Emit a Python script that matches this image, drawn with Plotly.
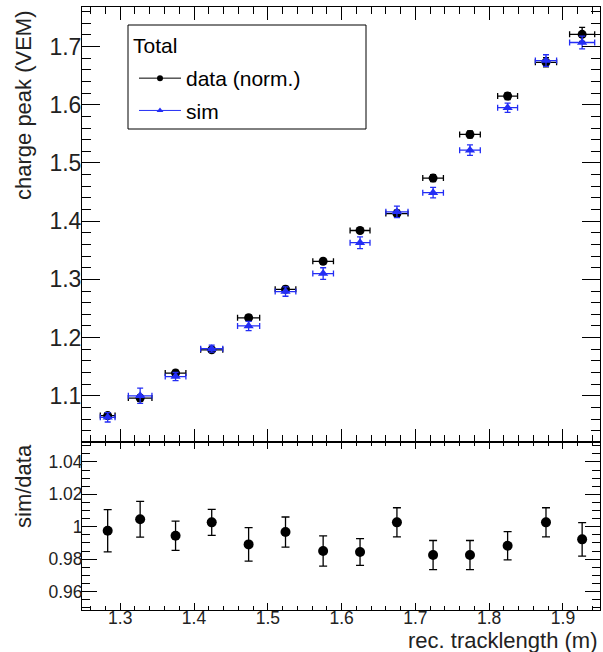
import plotly.graph_objects as go

# ---- data ----
track_len = [1.283, 1.327, 1.375, 1.424, 1.474, 1.524, 1.575, 1.625, 1.675, 1.724, 1.774, 1.825, 1.877, 1.926]
track_err = [0.010, 0.016, 0.014, 0.015, 0.015, 0.014, 0.014, 0.0135, 0.015, 0.014, 0.014, 0.0135, 0.0144, 0.017]
data_peak = [1.066, 1.096, 1.139, 1.179, 1.234, 1.283, 1.331, 1.384, 1.413, 1.474, 1.549, 1.615, 1.673, 1.721]
data_err = [0.005, 0.005, 0.005, 0.004, 0.005, 0.005, 0.005, 0.005, 0.006, 0.006, 0.006, 0.006, 0.008, 0.012]
sim_peak = [1.063, 1.100, 1.133, 1.181, 1.220, 1.279, 1.310, 1.363, 1.416, 1.449, 1.522, 1.595, 1.676, 1.707]
sim_err = [0.008, 0.013, 0.007, 0.006, 0.008, 0.008, 0.010, 0.010, 0.010, 0.009, 0.009, 0.008, 0.010, 0.011]
ratio = [0.9975, 1.0046, 0.9944, 1.0027, 0.9891, 0.9967, 0.985, 0.9844, 1.0027, 0.9825, 0.9825, 0.9883, 1.0027, 0.9922]
ratio_err = [0.013, 0.011, 0.009, 0.008, 0.0103, 0.0093, 0.0093, 0.0082, 0.009, 0.009, 0.009, 0.0087, 0.009, 0.0103]

FONT = "Liberation Sans, Arial, sans-serif"
BLUE = "rgb(35,45,245)"

W, H = 603, 652
ML, MR, MT, MB = 82, 3, 7, 42
PW, PH = W - ML - MR, H - MT - MB
split = (610 - 442) / PH

def px_x(px):
    return (px - ML) / PW

def px_y(py):
    return (H - MB - py) / PH

fig = go.Figure()

fig.add_trace(go.Scatter(
    x=track_len, y=data_peak, mode="markers", name="data (norm.)", showlegend=False,
    marker=dict(symbol="circle", size=9, color="black"),
    error_x=dict(type="data", array=track_err, color="black", thickness=1.3, width=3),
    error_y=dict(type="data", array=data_err, color="black", thickness=1.3, width=3),
    xaxis="x", yaxis="y"))
fig.add_trace(go.Scatter(
    x=track_len, y=sim_peak, mode="markers", name="sim", showlegend=False,
    marker=dict(symbol="triangle-up", size=9, color=BLUE),
    error_x=dict(type="data", array=track_err, color=BLUE, thickness=1.3, width=3),
    error_y=dict(type="data", array=sim_err, color=BLUE, thickness=1.3, width=3),
    xaxis="x", yaxis="y"))

# legend entries
fig.add_trace(go.Scatter(
    x=[None], y=[None], mode="lines+markers", name="data (norm.)", legendgroup="a",
    line=dict(color="black", width=1), marker=dict(symbol="circle", size=6, color="black"),
    xaxis="x", yaxis="y"))
fig.add_trace(go.Scatter(
    x=[None], y=[None], mode="lines+markers", name="sim", legendgroup="b",
    line=dict(color=BLUE, width=1), marker=dict(symbol="triangle-up", size=6, color=BLUE),
    xaxis="x", yaxis="y"))

fig.add_trace(go.Scatter(
    x=track_len, y=ratio, mode="markers", showlegend=False,
    marker=dict(symbol="circle", size=10, color="black"),
    error_y=dict(type="data", array=ratio_err, color="black", thickness=1.3, width=4),
    xaxis="x2", yaxis="y2"))

tickfont_big = dict(family=FONT, size=23, color="#222")
tickfont_small = dict(family=FONT, size=17.5, color="#222")
xrange = [1.2482, 1.9502]

common = dict(showline=True, linecolor="black", linewidth=1, mirror="allticks",
              ticks="inside", tickcolor="black", tickwidth=1, showgrid=False, zeroline=False,
              automargin=False)

fig.update_layout(
    width=W, height=H,
    margin=dict(l=ML, r=MR, t=MT, b=MB),
    paper_bgcolor="white", plot_bgcolor="white",
    showlegend=True,
    xaxis=dict(domain=[0, 1], anchor="y", range=xrange, dtick=0.1, tick0=1.0,
               showticklabels=False, ticklen=13,
               minor=dict(dtick=0.02, tick0=1.0, ticks="inside", ticklen=7, tickcolor="black"),
               **common),
    yaxis=dict(domain=[split, 1], anchor="x", range=[1.0206, 1.768], dtick=0.1, tick0=1.0,
               ticklen=18, tickfont=tickfont_big, ticklabelstandoff=-5,
               minor=dict(dtick=0.02, tick0=1.0, ticks="inside", ticklen=9, tickcolor="black"),
               **common),
    xaxis2=dict(domain=[0, 1], anchor="y2", range=xrange, dtick=0.1, tick0=1.0,
                ticklen=7, tickfont=tickfont_small, ticklabelstandoff=-8,
                minor=dict(dtick=0.02, tick0=1.0, ticks="inside", ticklen=4, tickcolor="black"),
                **common),
    yaxis2=dict(domain=[0, split], anchor="x2", range=[0.9486, 1.0523], dtick=0.02, tick0=1.0,
                ticklen=15, tickfont=tickfont_small, ticklabelstandoff=-5,
                minor=dict(dtick=0.005, tick0=1.0, ticks="inside", ticklen=8, tickcolor="black"),
                **common),
    legend=dict(x=px_x(134), y=px_y(58), xanchor="left", yanchor="top",
                bgcolor="rgba(0,0,0,0)", borderwidth=0,
                font=dict(family=FONT, size=21, color="black"),
                tracegroupgap=2, traceorder="grouped", itemwidth=42),
    shapes=[dict(type="rect", xref="paper", yref="paper",
                 x0=px_x(128), x1=px_x(366), y0=px_y(129), y1=px_y(25),
                 line=dict(color="black", width=1), fillcolor="white", layer="below")],
    annotations=[
        dict(text="Total", xref="paper", yref="paper", x=px_x(131), y=px_y(45),
             xanchor="left", yanchor="middle", showarrow=False,
             font=dict(family=FONT, size=21, color="black")),
        dict(text="charge peak (VEM)", xref="paper", yref="paper", x=px_x(23), y=px_y(105),
             xanchor="center", yanchor="middle", textangle=-90, showarrow=False,
             font=dict(family=FONT, size=22, color="#222")),
        dict(text="sim/data", xref="paper", yref="paper", x=px_x(23), y=px_y(486),
             xanchor="center", yanchor="middle", textangle=-90, showarrow=False,
             font=dict(family=FONT, size=22, color="#222")),
        dict(text="rec. tracklength (m)", xref="paper", yref="paper", x=px_x(600), y=px_y(640),
             xanchor="right", yanchor="middle", showarrow=False,
             font=dict(family=FONT, size=22, color="#222")),
    ],
)

fig.write_html("out.html", config={"displayModeBar": False},
               post_script="document.body.style.margin='0px';")
